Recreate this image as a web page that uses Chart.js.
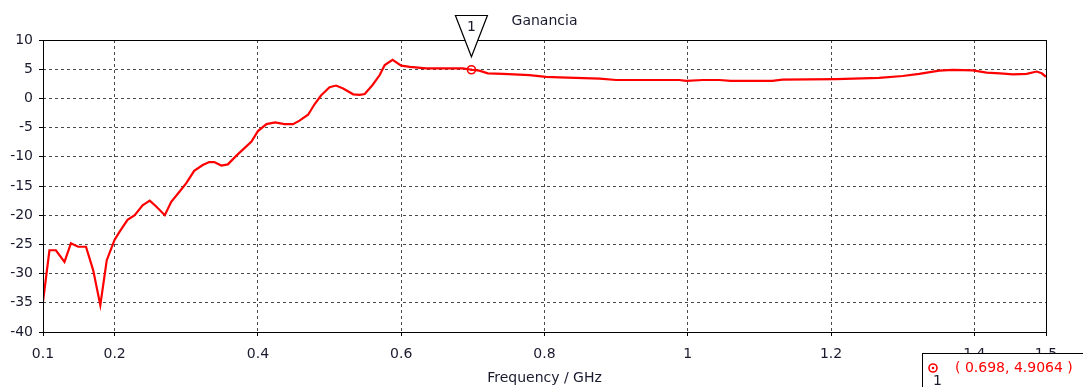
<!DOCTYPE html>
<html>
<head>
<meta charset="utf-8">
<script src="https://cdn.jsdelivr.net/npm/chart.js@4.4.0/dist/chart.umd.min.js"></script>
<style>
  html, body { margin: 0; padding: 0; background: #fff; }
  #wrap { width: 1083px; height: 387px; }
</style>
</head>
<body>
<div id="wrap"><canvas id="gain"></canvas></div>
<script>
const freqGHz = [0.100,0.109,0.118,0.130,0.139,0.149,0.160,0.170,0.180,0.189,0.200,0.207,0.218,0.228,0.239,0.249,0.258,0.270,0.279,0.291,0.300,0.311,0.323,0.332,0.339,0.349,0.358,0.370,0.391,0.400,0.412,0.424,0.437,0.449,0.458,0.470,0.479,0.488,0.500,0.509,0.519,0.533,0.542,0.549,0.560,0.570,0.577,0.588,0.600,0.612,0.635,0.658,0.686,0.698,0.709,0.721,0.742,0.779,0.802,0.821,0.877,0.900,0.988,0.998,1.021,1.044,1.060,1.118,1.132,1.207,1.267,1.300,1.323,1.351,1.370,1.398,1.417,1.436,1.454,1.473,1.487,1.494,1.500];
const gainDB = [-34.8,-26,-26,-28,-24.8,-25.4,-25.4,-29.4,-35.4,-27.7,-24.2,-22.8,-20.8,-20,-18.3,-17.5,-18.5,-20,-17.7,-15.9,-14.5,-12.4,-11.4,-10.9,-10.9,-11.5,-11.3,-9.8,-7.4,-5.6,-4.4,-4.1,-4.4,-4.4,-3.8,-2.8,-1.0,0.5,1.9,2.2,1.7,0.7,0.6,0.75,2.3,4.0,5.7,6.6,5.6,5.4,5.15,5.15,5.15,4.9064,4.75,4.3,4.2,4.0,3.7,3.6,3.4,3.15,3.15,3.0,3.15,3.15,3.0,3.0,3.2,3.3,3.5,3.84,4.2,4.75,4.9,4.8,4.4,4.3,4.1,4.2,4.6,4.3,3.7];

const xTicks = [0.1, 0.2, 0.4, 0.6, 0.8, 1, 1.2, 1.4, 1.5];
const yTicks = [-40, -35, -30, -25, -20, -15, -10, -5, 0, 5, 10];

const markerFreq = [0.698];
const markerGain = [4.9064];
const markerLabel = "1";
const chartTitle = "Ganancia";

const FONT = "'DejaVu Sans', Verdana, sans-serif";
const RED = "#ff0000";

const linePoints = freqGHz.map((f, i) => ({ x: f, y: gainDB[i] }));
const markerPoints = markerFreq.map((f, i) => ({ x: f, y: markerGain[i] }));

// grid lines only on inner ticks, the frame is drawn separately
function innerGrid(ctx) {
    const ticks = ctx.scale.ticks;
    if (ctx.index === 0 || ctx.index === ticks.length - 1) return "rgba(0,0,0,0)";
    return "#4a4a4a";
}

const overlay = {
    id: "overlay",
    afterDatasetsDraw(chart) {
        const { ctx, chartArea: a, scales } = chart;
        ctx.save();

        // frame
        ctx.strokeStyle = "#000";
        ctx.lineWidth = 1;
        ctx.strokeRect(Math.round(a.left) + 0.5, Math.round(a.top) + 0.5,
            Math.round(a.right - a.left), Math.round(a.bottom - a.top));

        // title
        ctx.fillStyle = "#1a1a2e";
        ctx.font = "14px " + FONT;
        ctx.textAlign = "center";
        ctx.textBaseline = "middle";
        ctx.fillText(chartTitle, (a.left + a.right) / 2, 21);

        // marker: centre dot + triangle flag
        markerPoints.forEach(p => {
            const px = scales.x.getPixelForValue(p.x);
            const py = scales.y.getPixelForValue(p.y);
            ctx.fillStyle = RED;
            ctx.beginPath();
            ctx.arc(px, py, 1.3, 0, Math.PI * 2);
            ctx.fill();

            ctx.beginPath();
            ctx.moveTo(px - 16, 15.5);
            ctx.lineTo(px + 16, 15.5);
            ctx.lineTo(px, py - 13);
            ctx.closePath();
            ctx.fillStyle = "#fff";
            ctx.fill();
            ctx.strokeStyle = "#000";
            ctx.lineWidth = 1.2;
            ctx.stroke();

            ctx.fillStyle = "#1a1a2e";
            ctx.font = "14px " + FONT;
            ctx.textAlign = "center";
            ctx.textBaseline = "middle";
            ctx.fillText(markerLabel, px, 27);
        });
        ctx.restore();
    },
    afterDraw(chart) {
        const { ctx } = chart;
        ctx.save();
        // marker readout box, bottom right
        const bx = 922.5, by = 353.5;
        ctx.fillStyle = "#fff";
        ctx.fillRect(bx, by, 200, 40);
        ctx.strokeStyle = "#000";
        ctx.lineWidth = 1;
        ctx.strokeRect(bx, by, 200, 40);

        ctx.strokeStyle = RED;
        ctx.lineWidth = 1.6;
        ctx.beginPath();
        ctx.arc(933, 368, 4, 0, Math.PI * 2);
        ctx.stroke();
        ctx.fillStyle = RED;
        ctx.beginPath();
        ctx.arc(933, 368, 1.3, 0, Math.PI * 2);
        ctx.fill();

        ctx.font = "14px " + FONT;
        ctx.textBaseline = "middle";
        ctx.textAlign = "left";
        ctx.fillStyle = RED;
        ctx.fillText("( " + markerFreq[0] + ", " + markerGain[0] + " )", 955, 368);
        ctx.fillStyle = "#1a1a2e";
        ctx.fillText(markerLabel, 933, 381);
        ctx.restore();
    }
};

new Chart(document.getElementById("gain"), {
    type: "line",
    data: {
        datasets: [
            {
                data: linePoints,
                borderColor: RED,
                borderWidth: 2.2,
                pointRadius: 0,
                tension: 0,
                fill: false
            },
            {
                data: markerPoints,
                showLine: false,
                pointRadius: 4,
                pointBorderWidth: 1.6,
                pointBorderColor: RED,
                pointBackgroundColor: "#fff"
            }
        ]
    },
    options: {
        responsive: true,
        maintainAspectRatio: false,
        animation: false,
        layout: { padding: { top: 40, right: 37, left: 0, bottom: 0 } },
        plugins: {
            legend: { display: false },
            tooltip: { enabled: false }
        },
        scales: {
            x: {
                type: "linear",
                min: 0.1,
                max: 1.5,
                afterBuildTicks: s => { s.ticks = xTicks.map(v => ({ value: v })); },
                afterFit: s => { s.height = 55; },
                grid: {
                    color: innerGrid,
                    lineWidth: 1,
                    drawTicks: true,
                    tickLength: 4,
                    tickColor: "#000",
                    tickBorderDash: []
                },
                border: { display: false, dash: [3, 3] },
                ticks: {
                    color: "#1a1a2e",
                    font: { family: FONT, size: 14 },
                    padding: 10,
                    maxRotation: 0,
                    autoSkip: false,
                    callback: v => String(v)
                },
                title: {
                    display: true,
                    text: "Frequency / GHz",
                    color: "#1a1a2e",
                    font: { family: FONT, size: 14 },
                    padding: { top: 2, bottom: 0 }
                }
            },
            y: {
                min: -40,
                max: 10,
                afterBuildTicks: s => { s.ticks = yTicks.map(v => ({ value: v })); },
                afterFit: s => { s.width = 43; },
                grid: {
                    color: innerGrid,
                    lineWidth: 1,
                    drawTicks: true,
                    tickLength: 4,
                    tickColor: "#000",
                    tickBorderDash: []
                },
                border: { display: false, dash: [3, 3] },
                ticks: {
                    color: "#1a1a2e",
                    font: { family: FONT, size: 14 },
                    padding: 6,
                    autoSkip: false
                }
            }
        }
    },
    plugins: [overlay]
});
</script>
</body>
</html>
